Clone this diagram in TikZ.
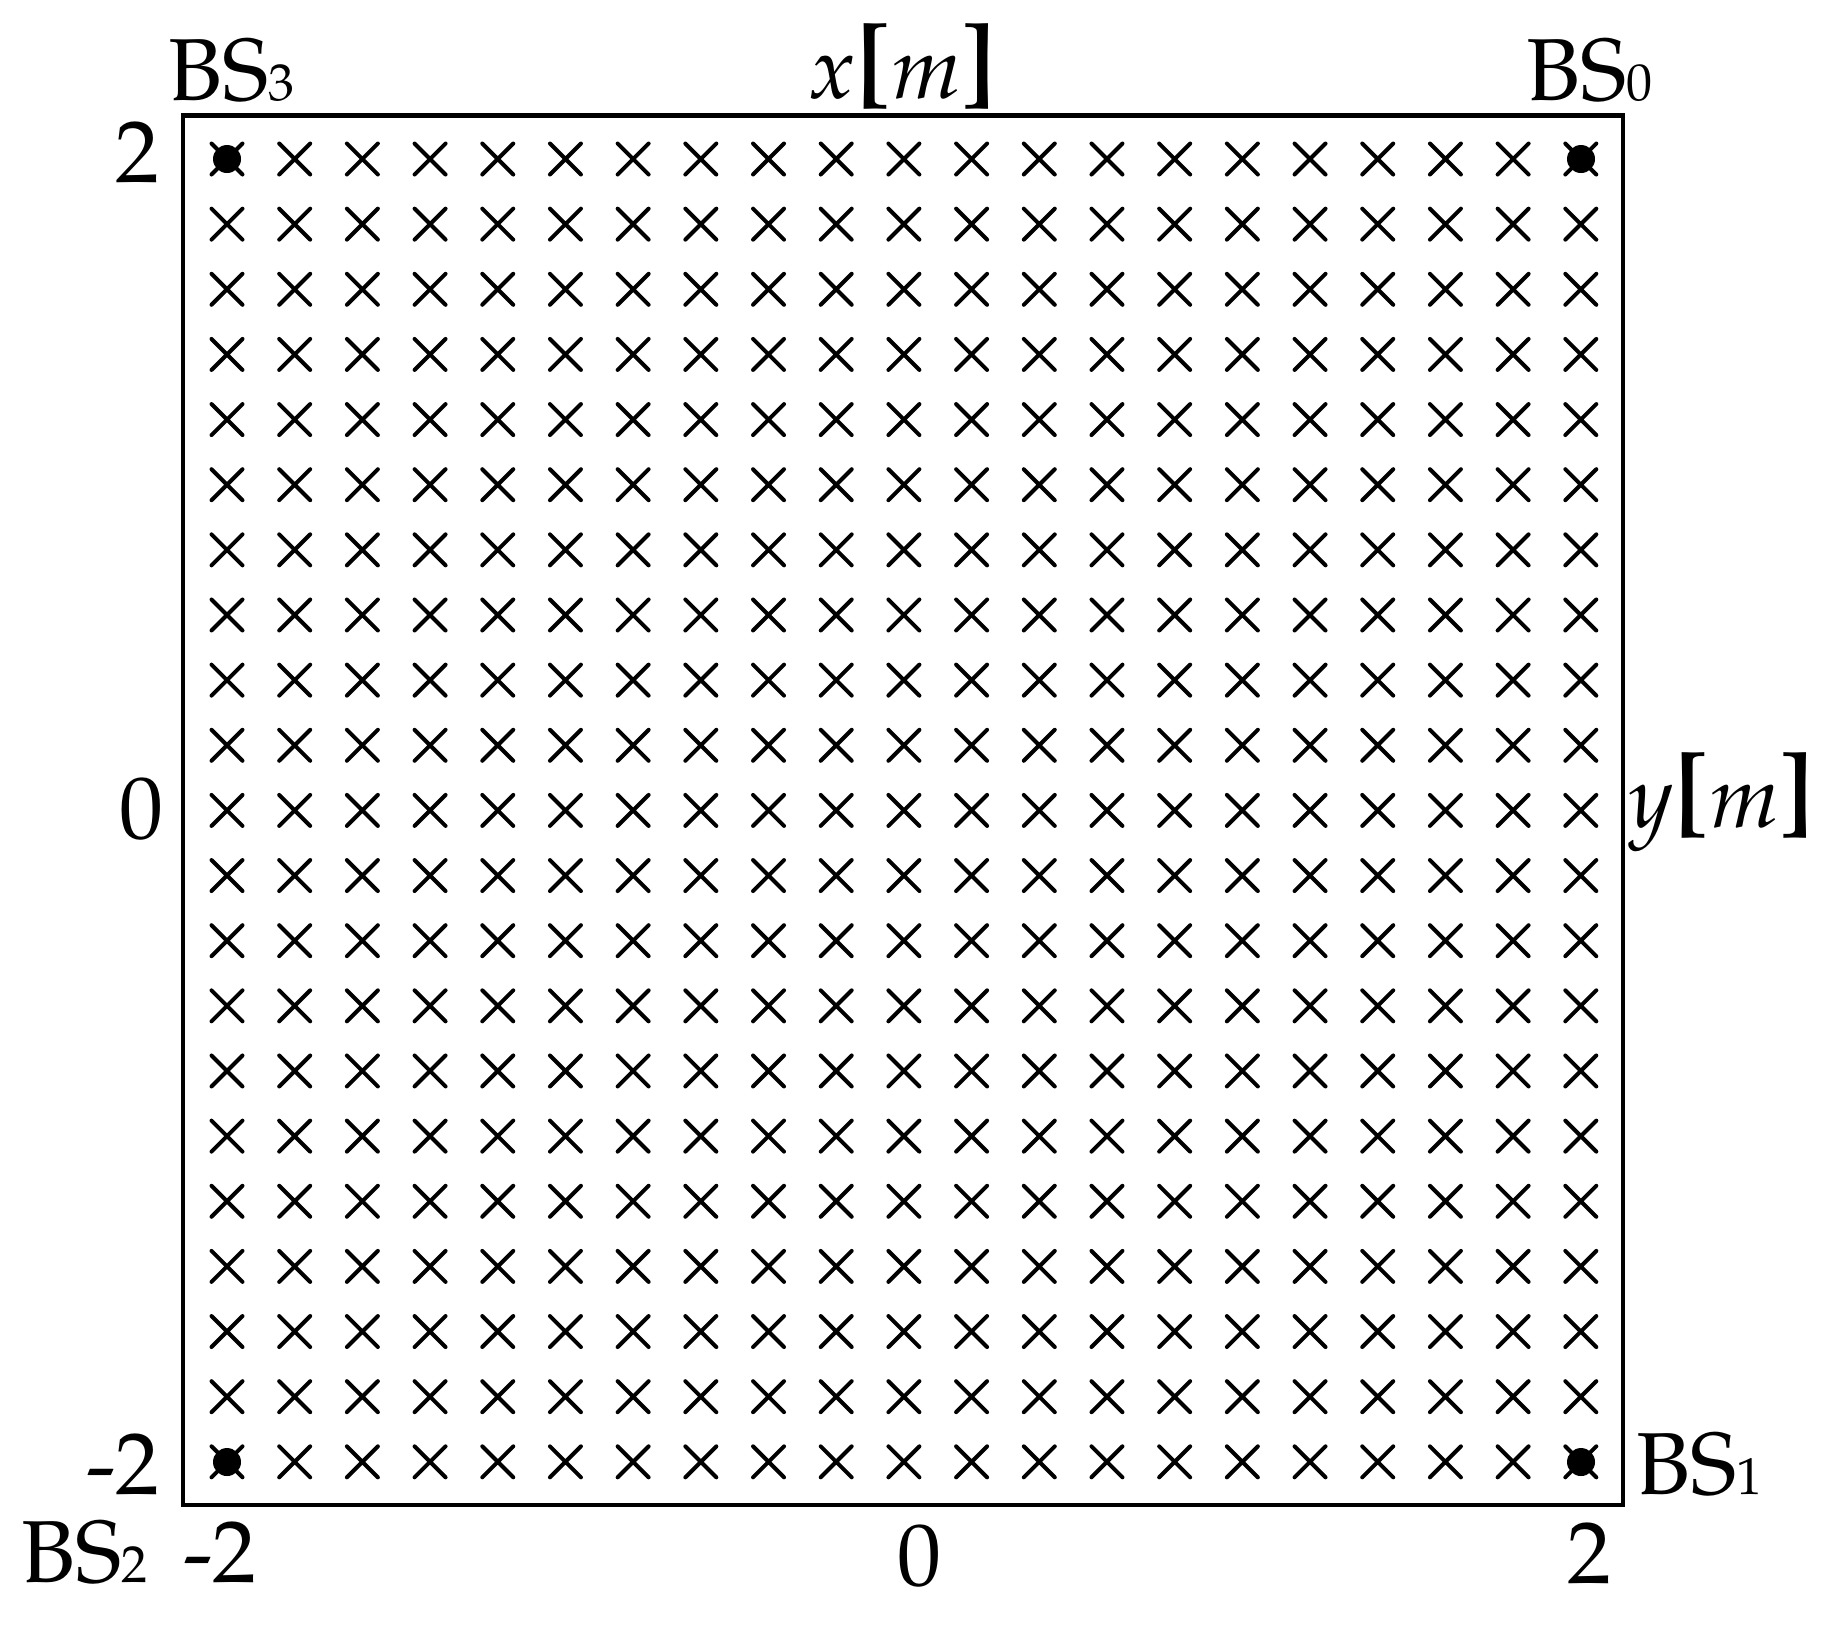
\documentclass[tikz,border=0pt]{standalone}
\usepackage[T1]{fontenc}
\usepackage{mathpazo}
\newcommand{\smallsub}[1]{{\fontsize{26}{28}\selectfont #1}}
\newcommand{\bigbr}[1]{{\fontsize{52}{56}\selectfont\textbf{#1}}}
\begin{document}
\begin{tikzpicture}[x=0.5pt,y=-0.5pt,
  lab/.style={inner sep=0pt,font=\fontsize{44}{48}\selectfont},
  crossmk/.style={line width=2pt,line cap=round},
  frame/.style={line width=2.2pt}]
\useasboundingbox (0,0) rectangle (1830,1630);
\draw[frame] (183,115.5) rectangle (1623,1505);
\foreach \i in {0,...,20}{
  \foreach \j in {0,...,20}{
    \draw[crossmk] ({227+67.69*\i-15.5},{159+65.14*\j-15.5}) -- ++(31,31) ++(0,-31) -- ++(-31,31);
  }
}
\fill (227,159) circle[radius=14];
\fill (1581,159) circle[radius=14];
\fill (227,1462) circle[radius=14];
\fill (1581,1462) circle[radius=14];
% labels
\node[lab,anchor=base west] (bs3) at (168,100) {BS\smallsub{3}};
\node[lab,anchor=base west] (bs0) at (1526,100) {BS\smallsub{0}};
\node[lab,anchor=base west] (bs1) at (1636,1494) {BS\smallsub{1}};
\node[lab,anchor=base west] (bs2) at (21,1582) {BS\smallsub{2}};
\node[lab,anchor=base] (xl) at (902,98) {$x$\bigbr{[}$m$\bigbr{]}};
\node[lab,anchor=base west] (yl) at (1628,827) {$y$\bigbr{[}$m$\bigbr{]}};
\node[lab,anchor=base east] (yt2) at (160,182) {2};
\node[lab,anchor=base east] (yt0) at (164,838) {0};
\node[lab,anchor=base east] (ytm2) at (160,1494) {-2};
\node[lab,anchor=base] (xtm2) at (220,1582) {-2};
\node[lab,anchor=base] (xt0) at (919,1585) {0};
\node[lab,anchor=base] (xt2) at (1589,1583) {2};
\end{tikzpicture}
\end{document}
